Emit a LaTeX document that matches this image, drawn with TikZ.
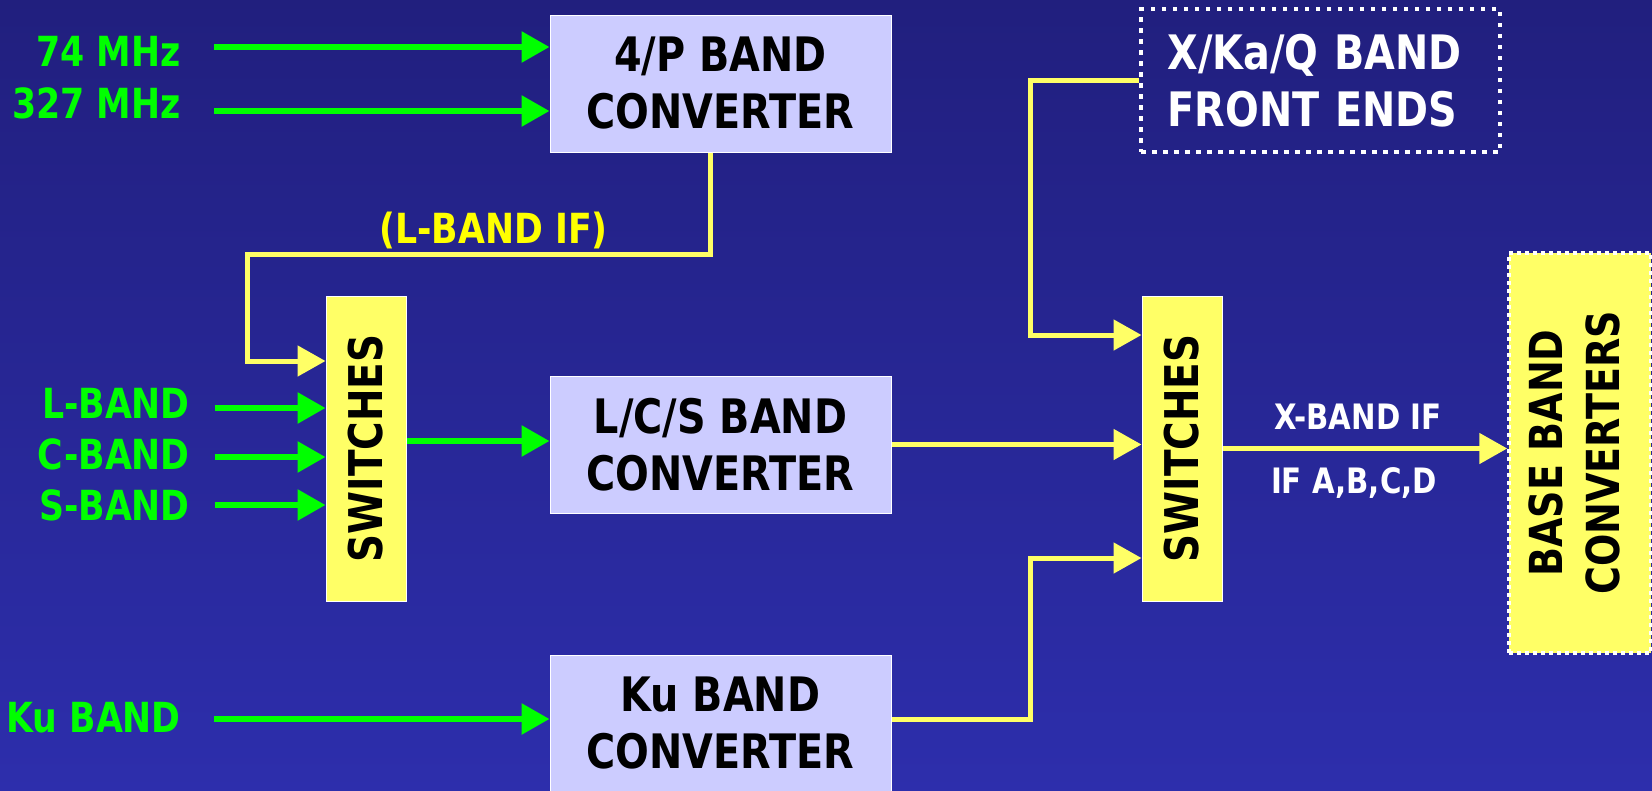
\documentclass[tikz,border=0pt]{standalone}
\usepackage{fontspec}
\usepackage{graphicx}
\setmainfont{DejaVu Sans Condensed Bold}[FakeStretch=0.93]
\usetikzlibrary{arrows.meta}
\definecolor{bgtop}{RGB}{33,31,126}
\definecolor{bgbot}{RGB}{45,46,172}
\definecolor{lav}{RGB}{204,204,255}
\definecolor{yel}{RGB}{255,255,102}
\definecolor{lblyel}{RGB}{255,255,0}
\definecolor{grn}{RGB}{0,255,0}
\tikzset{
  conv/.style={draw=white, line width=1pt, fill=lav, minimum width=341pt, minimum height=137pt,
    inner sep=0pt, align=center, text=black, font=\fontsize{47.5}{57}\selectfont},
  swbox/.style={draw=white, line width=1pt, fill=yel, minimum width=80pt, minimum height=305pt,
    inner sep=0pt, text=black, font=\fontsize{46.5}{57}\selectfont},
  glabel/.style={text=grn, inner sep=0pt, anchor=base east, font=\fontsize{41.5}{50}\selectfont},
  wlabel/.style={text=white, inner sep=0pt, anchor=base, font=\fontsize{35}{42}\selectfont},
  garrow/.style={draw=grn, line width=6pt, -{Triangle[length=28pt,width=30pt]}},
  yarrow/.style={draw=yel, line width=5pt, -{Triangle[length=28pt,width=30pt]}},
}
\begin{document}
\begin{tikzpicture}[x=1pt,y=-1pt]
\useasboundingbox (0,0) rectangle (1652,790);
\clip (0,0) rectangle (1652,790);
\shade[top color=bgtop, bottom color=bgbot] (0,0) rectangle (1652,790);

% boxes
\node[conv] (p4) at (720.5,83.5) {4/P BAND\\CONVERTER};
\node[conv] (lcs) at (720.5,444.5) {L/C/S BAND\\CONVERTER};
\node[conv] (ku) at (720.5,723.5) {Ku BAND\\CONVERTER};
\node[swbox] (sw1) at (366,448.5) {\rotatebox{90}{SWITCHES}};
\node[swbox] (sw2) at (1182,448.5) {\rotatebox{90}{SWITCHES}};
\node[draw=white, line width=4.5pt, dash pattern=on 4.5pt off 6.5pt, minimum width=359pt,
  minimum height=143pt, text width=306pt, align=left, inner sep=0pt, text=white,
  font=\fontsize{47.5}{57}\selectfont] (xkq) at (1320.5,80.5) {X/Ka/Q BAND\\FRONT ENDS};
\node[draw=white, fill=yel, line width=3.5pt, dash pattern=on 3.7pt off 4.3pt, minimum width=142pt,
  minimum height=400pt, inner sep=0pt, text=black,
  font=\fontsize{45.5}{57}\selectfont] (bbc) at (1580,453)
  {\rotatebox{90}{\begin{tabular}{@{}c@{}}BASE BAND\\CONVERTERS\end{tabular}}};

% labels
\node[glabel] (l74) at (181,66) {74 MHz};
\node[glabel] (l327) at (181,118) {327 MHz};
\node[glabel] (lL) at (190,418) {L-BAND};
\node[glabel] (lC) at (190,469) {C-BAND};
\node[glabel] (lS) at (190,520) {S-BAND};
\node[glabel] (lKu) at (181,732) {Ku BAND};
\node[text=lblyel, inner sep=0pt, anchor=base, font=\fontsize{41.5}{50}\selectfont] (lif) at (493.5,243) {(L-BAND IF)};
\node[wlabel] (lx) at (1358,429) {X-BAND IF};
\node[wlabel] (la) at (1354,493) {IF A,B,C,D};

% coordinates
\coordinate (s74) at (214,47);
\coordinate (s327) at (214,111);
\coordinate (sL) at (215,408);
\coordinate (sC) at (215,457);
\coordinate (sS) at (215,505);
\coordinate (sKu) at (214,719);
\coordinate (g1) at (0,441);
\coordinate (k1) at (247,254);
\coordinate (k2) at (0,361);
\coordinate (jx) at (1030,0);
\coordinate (r1) at (0,335);
\coordinate (r3) at (0,558);
\coordinate (r4) at (0,719);
\coordinate (p4b) at ([xshift=-10.5pt]p4.south);

% green inputs
\draw[garrow] (s74) -- (s74 -| p4.west);
\draw[garrow] (s327) -- (s327 -| p4.west);
\draw[garrow] (sL) -- (sL -| sw1.west);
\draw[garrow] (sC) -- (sC -| sw1.west);
\draw[garrow] (sS) -- (sS -| sw1.west);
\draw[garrow] (sKu) -- (sKu -| ku.west);
\draw[garrow] (sw1.east |- g1) -- (lcs.west |- g1);

% yellow paths
\draw[yarrow] (p4b) -- (p4b |- k1) -- (k1) |- (sw1.west |- k2);
\draw[yarrow] (xkq.west) -- (xkq.west -| jx) |- (sw2.west |- r1);
\draw[yarrow] (lcs.east) -- (lcs.east -| sw2.west);
\draw[yarrow] (ku.east |- r4) -- (jx |- r4) |- (sw2.west |- r3);
\draw[yarrow] (sw2.east) -- (sw2.east -| bbc.west);
\end{tikzpicture}
\end{document}
